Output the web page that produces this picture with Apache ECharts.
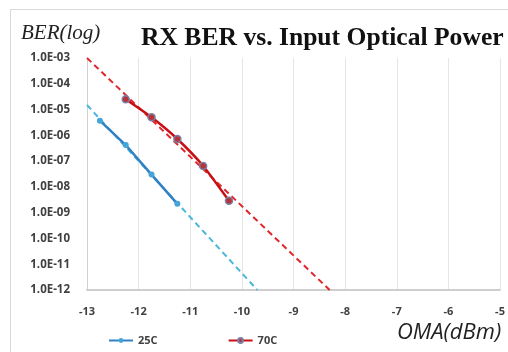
<!DOCTYPE html>
<html><head><meta charset="utf-8">
<script src="https://cdn.jsdelivr.net/npm/echarts@6/dist/echarts.min.js"></script>
<style>html,body{margin:0;padding:0;background:#fff}#c{width:508px;height:352px}</style>
</head><body><div id="c"></div>
<script>
// Data
var xTicks = [-13, -12, -11, -10, -9, -8, -7, -6, -5];
var x25 = [-12.75, -12.25, -11.75, -11.25];
var ber25 = [3.7e-6, 4.2e-7, 3.0e-8, 2.2e-9];
var x70 = [-12.25, -11.75, -11.25, -10.75, -10.25];
var ber70 = [2.5e-5, 5.0e-6, 7.2e-7, 6.5e-8, 2.9e-9];
var fit25X = [-13, -9.7];
var fit25Y = [1.5e-5, 1e-12];
var fit70X = [-13, -8.3];
var fit70Y = [1e-3, 1e-12];
var gridRefBER = 1e-11;

function pairs(xs, ys){ return xs.map(function(x,i){return [x, ys[i]];}); }

var chart = echarts.init(document.getElementById('c'), null, {renderer:'canvas'});
chart.setOption({
  animation: false,
  backgroundColor: '#fff',
  title: {
    text: 'RX BER vs. Input Optical Power',
    left: 136, top: 20,
    textStyle: {fontFamily: 'Liberation Serif', fontWeight: 'bold', fontSize: 25.6, color: '#111'}
  },
  graphic: [
    {type:'rect', shape:{x:10.5, y:9.5, width:520, height:360}, style:{fill:'none', stroke:'#d9d9d9', lineWidth:1}, silent:true},
    {type:'text', left: 21, top: 23, style:{text:'BER(log)', font:'italic 21px "Liberation Serif"', fill:'#222'}},
    {type:'text', left: 397, top: 322, style:{text:'OMA(dBm)', font:'italic 22px "Open Sans"', fill:'#222'}}
  ],
  grid: {left: 87, right: 8, top: 58, bottom: 62},
  legend: {
    left: 103, top: 330, itemGap: 70, itemWidth: 24, itemHeight: 6,
    data: ['25C', '70C'],
    textStyle: {fontFamily: 'Open Sans', fontSize: 11, color: '#404040', fontWeight: 'bold'}
  },
  xAxis: {
    type: 'value', min: -13, max: -5, interval: 1,
    axisLine: {show: true, lineStyle: {color: '#bfbfbf', width: 1.5}},
    axisTick: {show: false},
    axisLabel: {margin: 16, fontFamily: 'Open Sans', fontSize: 11, fontWeight: 'bold', color: '#404040'},
    splitLine: {show: true, lineStyle: {color: '#e6e6e6', width: 1}}
  },
  yAxis: {
    type: 'log', logBase: 10, min: 1e-12, max: 1e-3, splitNumber: 9,
    axisLine: {show: true, onZero: false, lineStyle: {color: '#d0d0d0'}},
    axisTick: {show: false},
    axisLabel: {margin: 17, fontFamily: 'Open Sans', fontSize: 11.5, fontWeight: 'bold', color: '#404040',
      formatter: function(v){ var e = Math.round(Math.log10(v)); return '1.0E-' + String(-e).padStart(2,'0'); }},
    splitLine: {show: false},
    minorSplitLine: {show: false}
  },
  series: [
    {name: 'fit25', type: 'line', data: pairs(fit25X, fit25Y), symbol: 'none', silent: true,
     lineStyle: {color: '#4db6da', width: 2, type: [6, 4]}, z: 1},
    {name: 'fit70', type: 'line', data: pairs(fit70X, fit70Y), symbol: 'none', silent: true,
     lineStyle: {color: '#e0262b', width: 2, type: [6, 4]}, z: 1,
     markLine: {silent: true, symbol: 'none', label: {show: false},
       lineStyle: {color: '#e3e3e3', width: 1, type: 'solid'}, data: [{yAxis: gridRefBER}]}},
    {name: '25C', type: 'line', data: pairs(x25, ber25), symbol: 'circle', symbolSize: 6,
     itemStyle: {color: '#45a4d8'}, lineStyle: {color: '#2f80c4', width: 2.5}, z: 3},
    {name: '70C', type: 'line', data: pairs(x70, ber70), symbol: 'circle', symbolSize: 7, smooth: 0.2,
     itemStyle: {color: '#b8323a', borderColor: '#7782a6', borderWidth: 1.5}, lineStyle: {color: '#c80f14', width: 2.5}, z: 3}
  ]
});
</script></body></html>
